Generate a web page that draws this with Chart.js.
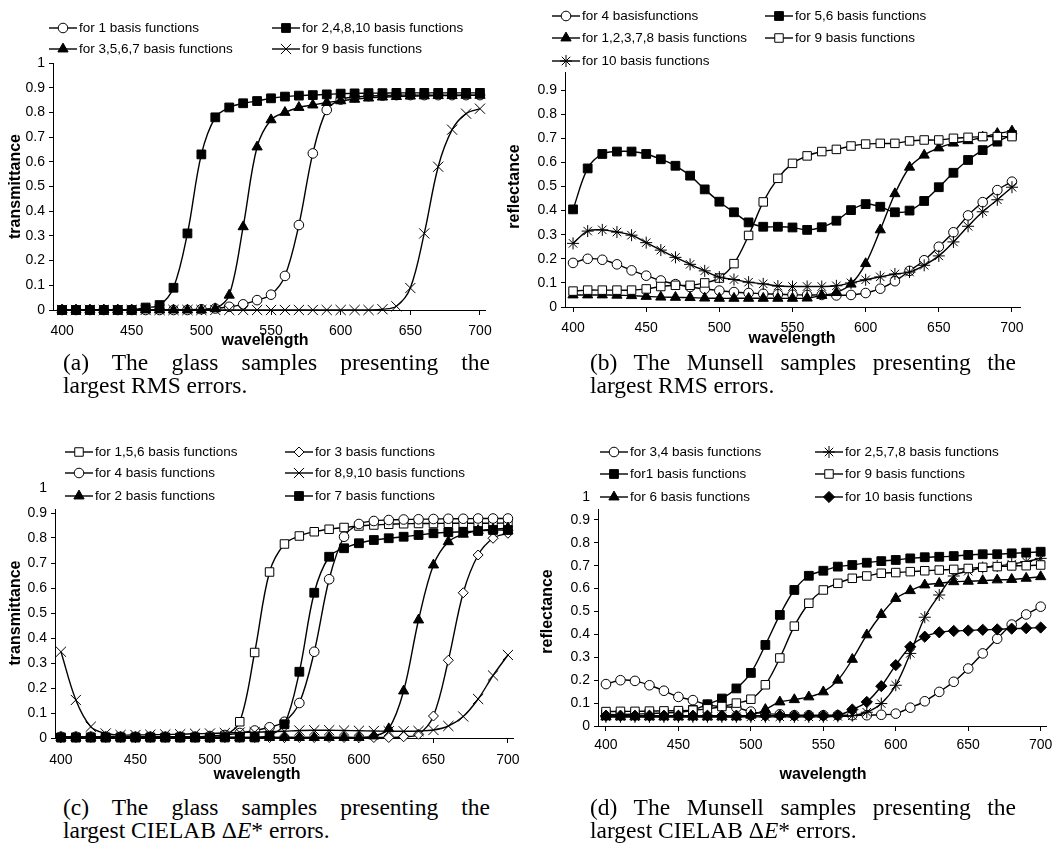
<!DOCTYPE html>
<html>
<head>
<meta charset="utf-8">
<script src="https://cdn.jsdelivr.net/npm/chart.js@4/dist/chart.umd.min.js"></script>
<style>
body{margin:0;background:#fff;width:1058px;height:852px;position:relative;overflow:hidden}
canvas{position:absolute}
.cap{position:absolute;font-family:"Liberation Serif","Times New Roman",serif;font-size:23.5px;line-height:23px;color:#000;white-space:nowrap}
.cap .l1{text-align:justify;text-align-last:justify;white-space:normal}
</style>
</head>
<body>
<canvas id="chartA" width="529" height="352" style="left:0;top:0"></canvas>
<canvas id="chartB" width="558" height="352" style="left:500px;top:0"></canvas>
<canvas id="chartC" width="529" height="372" style="left:0;top:420px"></canvas>
<canvas id="chartD" width="558" height="372" style="left:500px;top:420px"></canvas>

<div class="cap" style="left:63px;top:351px;width:427px"><div class="l1">(a) The glass samples presenting the</div><div>largest RMS errors.</div></div>
<div class="cap" style="left:590px;top:351px;width:426px"><div class="l1">(b) The Munsell samples presenting the</div><div>largest RMS errors.</div></div>
<div class="cap" style="left:63px;top:796px;width:427px"><div class="l1">(c) The glass samples presenting the</div><div>largest CIELAB &Delta;<i>E</i>* errors.</div></div>
<div class="cap" style="left:590px;top:796px;width:426px"><div class="l1">(d) The Munsell samples presenting the</div><div>largest CIELAB &Delta;<i>E</i>* errors.</div></div>

<script>
const wavelengths = [400,410,420,430,440,450,460,470,480,490,500,510,520,530,540,550,560,570,580,590,600,610,620,630,640,650,660,670,680,690,700];
const xTicks = [400,450,500,550,600,650,700];
const yTicks = [0,0.1,0.2,0.3,0.4,0.5,0.6,0.7,0.8,0.9,1];

// (a) glass, RMS
const aLabels = ['for 1 basis functions','for 2,4,8,10 basis functions','for 3,5,6,7 basis functions','for 9 basis functions'];
const aOne   = [0,0,0,0,0,0,0,0,0,0,0.003,0.006,0.013,0.023,0.04,0.062,0.138,0.344,0.634,0.81,0.852,0.862,0.866,0.868,0.87,0.87,0.87,0.87,0.87,0.87,0.87];
const aTwo   = [0,0,0,0,0,0,0.01,0.02,0.09,0.31,0.63,0.78,0.82,0.837,0.846,0.857,0.864,0.868,0.87,0.873,0.876,0.877,0.878,0.878,0.879,0.879,0.879,0.879,0.879,0.879,0.879];
const aThree = [0,0,0,0,0,0,0,0,0,0,0,0.005,0.06,0.337,0.66,0.77,0.8,0.82,0.83,0.84,0.847,0.853,0.858,0.862,0.864,0.866,0.867,0.868,0.868,0.869,0.869];
const aNine  = [0,0,0,0,0,0,0,0,0,0,0,0,0,0,0,0,0,0,0,0,0,0,0,0.003,0.015,0.089,0.31,0.58,0.73,0.795,0.815];

// (b) Munsell, RMS
const bLabels = ['for 4 basisfunctions','for 5,6 basis functions','for 1,2,3,7,8 basis functions','for 9 basis functions','for 10 basis functions'];
const bFour  = [0.183,0.2,0.196,0.177,0.152,0.13,0.11,0.095,0.083,0.075,0.068,0.062,0.058,0.055,0.053,0.051,0.05,0.05,0.048,0.05,0.058,0.076,0.107,0.15,0.194,0.25,0.31,0.38,0.435,0.485,0.52];
const bFive  = [0.405,0.575,0.635,0.645,0.645,0.635,0.613,0.586,0.545,0.488,0.437,0.393,0.351,0.333,0.333,0.33,0.32,0.331,0.358,0.402,0.427,0.416,0.393,0.4,0.44,0.497,0.557,0.61,0.651,0.686,0.714];
const bOne   = [0.05,0.05,0.05,0.049,0.047,0.044,0.041,0.04,0.039,0.037,0.036,0.036,0.036,0.036,0.036,0.036,0.037,0.048,0.06,0.095,0.18,0.32,0.47,0.58,0.63,0.66,0.68,0.69,0.705,0.72,0.73];
const bNine  = [0.066,0.07,0.07,0.07,0.07,0.075,0.085,0.09,0.09,0.1,0.12,0.18,0.297,0.436,0.534,0.596,0.627,0.645,0.654,0.668,0.676,0.679,0.679,0.689,0.693,0.693,0.7,0.704,0.707,0.707,0.707];
const bTen   = [0.264,0.315,0.32,0.311,0.298,0.267,0.236,0.206,0.177,0.15,0.124,0.114,0.103,0.096,0.087,0.085,0.085,0.085,0.088,0.1,0.113,0.125,0.137,0.145,0.173,0.212,0.27,0.335,0.395,0.445,0.497];

// (c) glass, CIELAB
const cLabels = ['for 1,5,6 basis functions','for 3 basis functions','for 4 basis functions','for 8,9,10 basis functions','for 2 basis functions','for 7 basis functions'];
const cOne   = [0.002,0.002,0.002,0.002,0.002,0.002,0.002,0.002,0.002,0.002,0.002,0.01,0.065,0.342,0.664,0.776,0.808,0.825,0.835,0.842,0.848,0.852,0.855,0.857,0.858,0.858,0.859,0.859,0.859,0.859,0.86];
const cThree = [0.002,0.002,0.002,0.002,0.002,0.002,0.002,0.002,0.002,0.002,0.002,0.002,0.002,0.002,0.002,0.002,0.002,0.002,0.002,0.002,0.002,0.002,0.002,0.005,0.015,0.088,0.311,0.581,0.732,0.799,0.819];
const cFour  = [0.005,0.005,0.005,0.005,0.005,0.005,0.005,0.005,0.005,0.005,0.008,0.012,0.02,0.03,0.043,0.065,0.14,0.345,0.635,0.805,0.856,0.868,0.872,0.874,0.875,0.876,0.877,0.877,0.878,0.878,0.878];
const cEight = [0.345,0.152,0.045,0.018,0.012,0.012,0.013,0.014,0.015,0.017,0.018,0.02,0.022,0.023,0.025,0.027,0.03,0.031,0.031,0.03,0.029,0.028,0.027,0.027,0.028,0.032,0.048,0.086,0.156,0.25,0.332];
const cTwo   = [0.002,0.002,0.002,0.002,0.002,0.002,0.002,0.002,0.002,0.002,0.002,0.002,0.002,0.002,0.002,0.002,0.002,0.002,0.002,0.002,0.002,0.008,0.037,0.188,0.472,0.692,0.785,0.815,0.83,0.835,0.84];
const cSeven = [0.002,0.002,0.002,0.002,0.002,0.002,0.002,0.002,0.002,0.002,0.002,0.002,0.002,0.002,0.01,0.055,0.265,0.581,0.725,0.759,0.779,0.792,0.799,0.805,0.812,0.819,0.823,0.825,0.828,0.832,0.832];

// (d) Munsell, CIELAB
const dLabels = ['for 3,4 basis functions','for 2,5,7,8 basis functions','for1 basis functions','for 9 basis functions','for 6 basis functions','for 10 basis functions'];
const dThree = [0.183,0.2,0.197,0.178,0.154,0.127,0.113,0.092,0.084,0.08,0.063,0.054,0.051,0.047,0.047,0.047,0.047,0.047,0.047,0.049,0.054,0.08,0.108,0.149,0.193,0.251,0.317,0.381,0.443,0.487,0.521];
const dTwo   = [0.04,0.04,0.04,0.04,0.04,0.04,0.04,0.04,0.04,0.04,0.04,0.04,0.04,0.04,0.04,0.04,0.042,0.045,0.06,0.098,0.178,0.317,0.475,0.572,0.655,0.676,0.692,0.699,0.707,0.718,0.732];
const dOne   = [0.05,0.05,0.052,0.054,0.057,0.06,0.07,0.095,0.12,0.164,0.232,0.354,0.485,0.594,0.656,0.678,0.696,0.703,0.713,0.72,0.725,0.732,0.737,0.739,0.742,0.747,0.75,0.75,0.754,0.757,0.761];
const dNine  = [0.063,0.064,0.064,0.065,0.066,0.067,0.069,0.075,0.085,0.1,0.117,0.18,0.297,0.436,0.536,0.594,0.623,0.645,0.655,0.667,0.67,0.674,0.678,0.681,0.684,0.688,0.693,0.696,0.699,0.7,0.703];
const dSix   = [0.04,0.04,0.04,0.04,0.04,0.04,0.04,0.04,0.04,0.04,0.047,0.072,0.105,0.115,0.127,0.149,0.2,0.291,0.398,0.487,0.557,0.591,0.616,0.623,0.63,0.632,0.635,0.638,0.64,0.645,0.652];
const dTen   = [0.045,0.045,0.045,0.045,0.045,0.045,0.045,0.045,0.045,0.045,0.045,0.045,0.045,0.045,0.045,0.045,0.047,0.072,0.105,0.174,0.266,0.346,0.39,0.409,0.415,0.417,0.42,0.422,0.425,0.427,0.43];

Chart.defaults.font.family = '"Liberation Sans", Arial, sans-serif';
Chart.defaults.color = '#000';

const markers = {
    circle:      {pointStyle:'circle',   radius:4.8, fill:'#fff'},
    square:      {pointStyle:'rect',     radius:6.2, fill:'#000'},
    openSquare:  {pointStyle:'rect',     radius:6.0, fill:'#fff'},
    triangle:    {pointStyle:'triangle', radius:5.9, fill:'#000'},
    cross:       {pointStyle:'crossRot', radius:7.2, fill:'#000'},
    star:        {pointStyle:'star',     radius:6,   fill:'#000'},
    diamond:     {pointStyle:'rectRot',  radius:5,   fill:'#fff'},
    fullDiamond: {pointStyle:'rectRot',  radius:5.6, fill:'#000'}
};

const panels = [
    {id:'chartA', labels:aLabels, series:[aOne,aTwo,aThree,aNine], marks:['circle','square','triangle','cross'],
     yTitle:'transmittance', xMin:393.5, xMax:703.6, area:{left:53,right:485,top:63,bottom:310}, padLeft:4, xPad:7.5,
     legendCols:[49,272], legendRows:[28,49], box:null, xTitleAt:[265,341], hideTop:false},
    {id:'chartB', labels:bLabels, series:[bFour,bFive,bOne,bNine,bTen], marks:['circle','square','triangle','openSquare','star'],
     yTitle:'reflectance', xMin:394.5, xMax:705.5, area:{left:65,right:520,top:66,bottom:307}, padLeft:3.4, xPad:7.5,
     legendCols:[52,265], legendRows:[16,38,61], box:[47,0,480,72], xTitleAt:[292,339], hideTop:true},
    {id:'chartC', labels:cLabels, series:[cOne,cThree,cFour,cEight,cTwo,cSeven], marks:['openSquare','diamond','circle','cross','triangle','square'],
     yTitle:'transmittance', xMin:396, xMax:703.4, area:{left:55,right:513,top:68,bottom:318}, padLeft:4.4, xPad:8.5,
     legendCols:[65,285], legendRows:[32,53,76], box:[50,18,460,71], xTitleAt:[257,355], hideTop:false},
    {id:'chartD', labels:dLabels, series:[dThree,dTwo,dOne,dNine,dSix,dTen], marks:['circle','star','square','openSquare','triangle','fullDiamond'],
     yTitle:'reflectance', xMin:394.5, xMax:704.1, area:{left:98,right:547,top:77,bottom:306}, padLeft:36.4, xPad:5.5,
     legendCols:[100,315], legendRows:[32,54,77], box:[93,18,470,71], xTitleAt:[323,355], hideTop:false}
];

function drawDecor(chart, p){
    const ctx = chart.ctx;
    ctx.save();
    if(p.box){
        ctx.fillStyle = '#fff';
        ctx.fillRect(p.box[0], p.box[1], p.box[2], p.box[3]);
    }
    ctx.font = '13.5px "Liberation Sans", Arial, sans-serif';
    ctx.textBaseline = 'middle';
    ctx.textAlign = 'left';
    chart.data.datasets.forEach((ds, i) => {
        const x = p.legendCols[i % 2];
        const y = p.legendRows[Math.floor(i / 2)];
        ctx.strokeStyle = '#000';
        ctx.lineWidth = 1.4;
        ctx.beginPath();
        ctx.moveTo(x, y);
        ctx.lineTo(x + 28, y);
        ctx.stroke();
        ctx.fillStyle = ds.pointBackgroundColor;
        ctx.lineWidth = 1;
        Chart.helpers.drawPoint(ctx, {pointStyle: ds.pointStyle, radius: ds.pointRadius, borderWidth: 1, rotation: 0}, x + 14, y);
        ctx.fillStyle = '#000';
        ctx.fillText(ds.label, x + 30, y + 0.5);
    });
    ctx.font = 'bold 16px "Liberation Sans", Arial, sans-serif';
    ctx.textAlign = 'center';
    ctx.fillText('wavelength', p.xTitleAt[0], p.xTitleAt[1]);
    ctx.restore();
}

function buildChart(p){
    const canvas = document.getElementById(p.id);
    const W = canvas.width, H = canvas.height;
    const xAxisH = 30;
    const datasets = p.series.map((vals, i) => {
        const m = markers[p.marks[i]];
        return {
            label: p.labels[i],
            data: vals.map((v, j) => ({x: wavelengths[j], y: v})),
            borderColor: '#000',
            borderWidth: 1.4,
            tension: 0.35,
            clip: false,
            order: -i,
            pointStyle: m.pointStyle,
            pointRadius: m.radius,
            pointBackgroundColor: m.fill,
            pointBorderColor: '#000',
            pointBorderWidth: 1
        };
    });
    return new Chart(canvas, {
        type: 'line',
        data: {datasets},
        options: {
            responsive: false,
            animation: false,
            events: [],
            layout: {padding: {left: p.padLeft, top: p.area.top, right: W - p.area.right, bottom: H - p.area.bottom - xAxisH}},
            plugins: {legend: {display: false}, tooltip: {enabled: false}},
            scales: {
                x: {
                    type: 'linear', min: p.xMin, max: p.xMax,
                    afterBuildTicks: s => { s.ticks = xTicks.map(v => ({value: v})); },
                    afterFit: s => { s.height = xAxisH; },
                    ticks: {font: {size: 14}, color: '#000', padding: p.xPad, maxRotation: 0, autoSkip: false},
                    grid: {drawOnChartArea: false, tickLength: 5, color: '#000'},
                    border: {color: '#000', width: 1}
                },
                y: {
                    min: 0, max: 1,
                    afterBuildTicks: s => { s.ticks = yTicks.map(v => ({value: v})); },
                    afterFit: s => { s.width = p.area.left - p.padLeft; },
                    ticks: {font: {size: 14}, color: '#000', padding: 4,
                        callback: v => (p.hideTop && v === 1) ? '' : String(v)},
                    grid: {drawOnChartArea: false, tickLength: 4, color: '#000'},
                    border: {color: '#000', width: 1},
                    title: {display: true, text: p.yTitle, color: '#000', font: {size: 16, weight: 'bold'}, padding: {top: 2, bottom: 0}}
                }
            }
        },
        plugins: [{id: 'decor', afterDraw: chart => drawDecor(chart, p)}]
    });
}

panels.forEach(buildChart);
</script>
</body>
</html>
